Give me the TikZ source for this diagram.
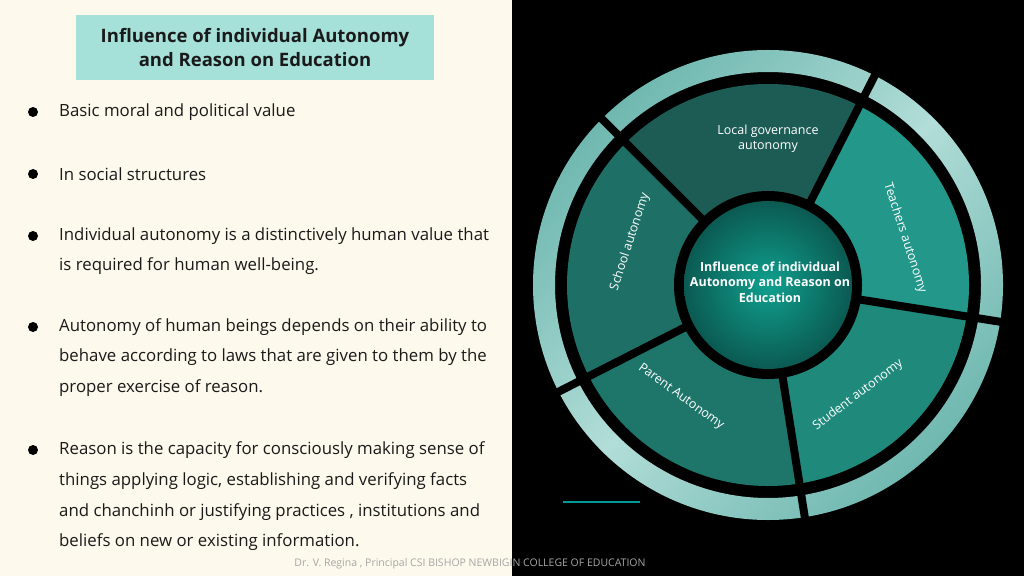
\documentclass[tikz,border=0pt]{standalone}
\usepackage{fontspec}
\setmainfont{Open Sans}
\usetikzlibrary{calc}
\definecolor{cream}{HTML}{FDF9EC}
\definecolor{titlebg}{HTML}{A5E0D9}
\definecolor{segA}{HTML}{1D5C55}
\definecolor{segB}{HTML}{23978A}
\definecolor{segC}{HTML}{1F8A7C}
\definecolor{segD}{HTML}{1E766B}
\definecolor{segE}{HTML}{1E6F66}
\definecolor{ringL}{HTML}{B2DDD8}
\definecolor{ringD}{HTML}{6FB8B0}
\definecolor{ctrIn}{HTML}{0FA08E}
\definecolor{ctrOut}{HTML}{0B5A52}
\definecolor{txt}{HTML}{1A1A1A}
\begin{document}
\begin{tikzpicture}[x=1pt,y=1pt,
  btxt/.style={anchor=west,font=\fontsize{16.8}{18}\selectfont,text=txt,inner sep=0},
  bul/.style={circle,fill=black,inner sep=0,minimum size=10pt},
  seg/.style={text=white,font=\fontsize{12.5}{15}\selectfont,align=center,inner sep=0},
  gap/.style={line width=8pt,black}]
\useasboundingbox (0,0) rectangle (1024,576);
\fill[cream] (0,0) rectangle (512,576);
\fill[black] (512,0) rectangle (1024,576);
\node[fill=titlebg,minimum width=358,minimum height=65,align=center,font=\bfseries\fontsize{18.5}{24}\selectfont,text=txt] (title) at (255,528) {Influence of individual Autonomy\\and Reason on Education};
\foreach \y [count=\i] in {112,174,236,327,450}{
  \node[bul] (b\i) at (33,576-\y) {};}
\foreach \y/\t [count=\i] in {112/Basic moral and political value,174/In social structures,236/Individual autonomy is a distinctively human value that,266/is required for human well-being.,327/Autonomy of human beings depends on their ability to,357/behave according to laws that are given to them by the,388/proper exercise of reason.,450/Reason is the capacity for consciously making sense of,481/{things applying logic, establishing and verifying facts},512/{and chanchinh or justifying practices , institutions and},542/beliefs on new or existing information.}{
  \node[btxt] (t\i) at (59,576-\y) {\t};}
\node[text=gray!70,font=\fontsize{10.5}{12}\selectfont] (foot) at (470,12) {Dr. V. Regina , Principal CSI BISHOP NEWBIGIN COLLEGE OF EDUCATION};
\coordinate (C) at (768,291);
% outer ring
\shade[even odd rule,left color=ringD,right color=ringD,middle color=ringL,shading angle=45] (C) circle[radius=235pt] (C) circle[radius=213pt];
\draw[black,line width=5pt] (C) circle[radius=208pt];
% segments
\foreach \a/\b/\c in {63/135/segA,-9/63/segB,-81/-9/segC,-153/-81/segD,135/207/segE}{
  \fill[\c] ($(C)+(\a:90pt)$) arc[start angle=\a,end angle=\b,radius=90pt] -- ($(C)+(\b:201pt)$) arc[start angle=\b,end angle=\a,radius=201pt] -- cycle;}
\foreach \a in {135,63,-9,-81,-153}{
  \draw[gap] ($(C)+(\a:88pt)$) -- ($(C)+(\a:240pt)$);}
\fill[black] (C) circle[radius=94pt];
\shade[inner color=ctrIn,outer color=ctrOut] (C) circle[radius=84pt];
\node[seg,font=\bfseries\fontsize{12.5}{15.5}\selectfont] (center) at (770,294) {Influence of individual\\Autonomy and Reason on\\Education};
\node[seg] (local) at (768,437) {Local governance\\autonomy};
\node[seg,rotate=-72] (teach) at (905,338) {Teachers autonomy};
\node[seg,rotate=72] (school) at (630,334) {School autonomy};
\node[seg,rotate=37] (student) at (858,181) {Student autonomy};
\node[seg,rotate=-36] (parent) at (681,179) {Parent Autonomy};
\draw[teal!80!cyan,line width=1.5pt] (563,74) -- (640,74);
\end{tikzpicture}
\end{document}
